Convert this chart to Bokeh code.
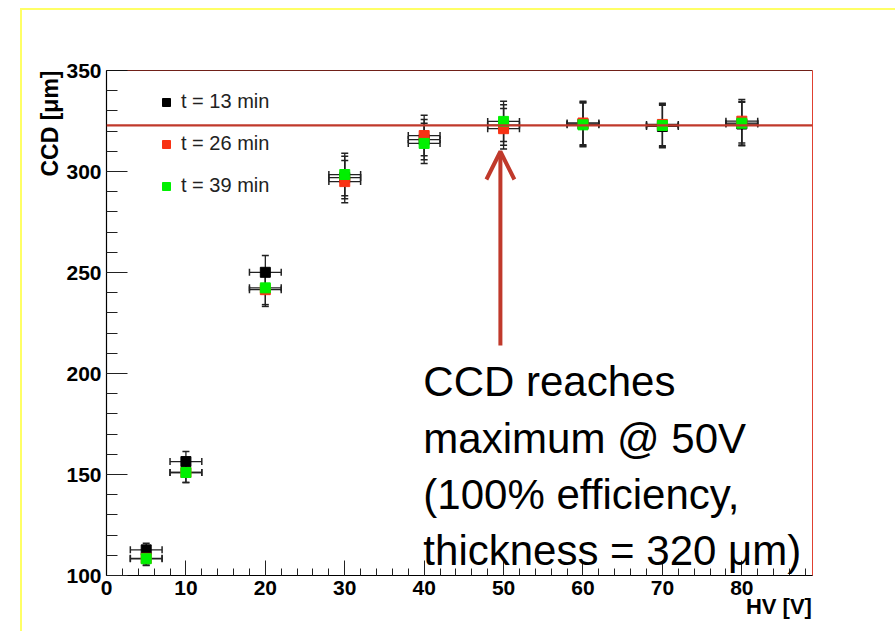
import math
from bokeh.plotting import figure
from bokeh.models import (Range1d, ColumnDataSource, Whisker, TeeHead, Span, Arrow,
                          OpenHead, Label, FixedTicker, Title, InlineStyleSheet)
from bokeh.embed import file_html
from bokeh.resources import INLINE

# ---- data ----
hv = [5, 10, 20, 30, 40, 50, 60, 70, 80]
hv_err = [2, 2, 2, 2, 2, 2, 2, 2, 2]
ccd_13 = [112.7, 156.4, 250.1, 297.0, 315.8, 323.0, 323.5, 322.3, 323.5]
ccd_26 = [108.5, 151.0, 241.5, 295.0, 317.8, 321.2, 324.0, 323.3, 324.9]
ccd_39 = [108.3, 151.0, 242.4, 298.5, 313.9, 324.8, 323.1, 322.8, 323.9]
ccd_err = [3.3, 5.0, 8.3, 10.5, 10.0, 10.0, 10.8, 10.5, 10.8]
series_labels = ["t = 13 min", "t = 26 min", "t = 39 min"]
series_colors = ["#000000", "#f83214", "#00f000"]
plateau = 322.8
x_ticks = [0, 10, 20, 30, 40, 50, 60, 70, 80]
y_ticks = [100, 150, 200, 250, 300, 350]
x_title = "HV [V]"
y_title = "CCD [μm]"

FONT = "'Liberation Sans', Arial, sans-serif"
DARKRED = "#c0392b"
NBSP = "\u00a0"

p = figure(width=879, height=623, output_backend="svg", toolbar_location=None,
           x_range=Range1d(0, 88.9), y_range=Range1d(100, 350),
           min_border_left=106, min_border_right=67, min_border_top=70,
           min_border_bottom=48)
p.grid.visible = False
p.background_fill_color = "white"
p.border_fill_color = "white"
p.outline_line_color = "#e04030"
p.outline_line_width = 1

for ax in (p.xaxis[0], p.yaxis[0]):
    ax.axis_line_color = "black"
    ax.axis_line_width = 1.2
    ax.major_tick_line_color = "#222222"
    ax.minor_tick_line_color = "#222222"
    ax.major_tick_out = 0
    ax.minor_tick_out = 0
    ax.major_label_text_font = FONT
    ax.major_label_text_font_style = "bold"
    ax.major_label_text_font_size = "21px"
    ax.major_label_text_color = "black"
    ax.major_label_standoff = 5

p.xaxis.ticker = FixedTicker(ticks=x_ticks, minor_ticks=[v for v in range(0, 89, 2)])
p.yaxis.ticker = FixedTicker(ticks=y_ticks, minor_ticks=[v for v in range(100, 351, 10)])
p.xaxis.major_tick_in = 15
p.xaxis.minor_tick_in = 7
p.yaxis.major_tick_in = 21
p.yaxis.minor_tick_in = 11

# x title: right-aligned at the end of the axis (ROOT style)
xa = p.xaxis[0]
xa.axis_label = x_title + NBSP * 11
if "axis_label_align" in xa.properties():
    xa.axis_label_align = "end"
xa.axis_label_standoff = -4
xa.axis_label_text_font = FONT
xa.axis_label_text_font_style = "bold"
xa.axis_label_text_font_size = "22px"
xa.axis_label_text_color = "black"

# y title: rotated, top-aligned
p.add_layout(Title(text=y_title, align="right", text_font=FONT, text_font_size="23px",
                   text_font_style="bold", text_color="black", standoff=1), "left")

# top frame line in black
p.add_layout(Span(location=350, dimension="width", line_color="black", line_width=1.2))

# error bars + markers
for vals, lab, col in zip([ccd_13, ccd_26, ccd_39], series_labels, series_colors):
    src = ColumnDataSource(dict(
        x=hv, y=vals,
        yl=[v - e for v, e in zip(vals, ccd_err)], yu=[v + e for v, e in zip(vals, ccd_err)],
        xl=[x - e for x, e in zip(hv, hv_err)], xu=[x + e for x, e in zip(hv, hv_err)]))
    wy = Whisker(source=src, base="x", lower="yl", upper="yu", dimension="height",
                 line_color="#222222", line_width=1.3, level="underlay",
                 upper_head=TeeHead(size=7, line_color="#222222", line_width=1.5),
                 lower_head=TeeHead(size=7, line_color="#222222", line_width=1.5))
    wx = Whisker(source=src, base="y", lower="xl", upper="xu", dimension="width",
                 line_color="#222222", line_width=1.3, level="underlay",
                 upper_head=TeeHead(size=7, line_color="#222222", line_width=1.5),
                 lower_head=TeeHead(size=7, line_color="#222222", line_width=1.5))
    p.add_layout(wy)
    p.add_layout(wx)
    p.scatter("x", "y", source=src, marker="square", size=10, fill_color=col,
              line_color=col, legend_label=lab)

# plateau line
p.add_layout(Span(location=plateau, dimension="width", line_color=DARKRED, line_width=2.2))

# arrow
p.add_layout(Arrow(end=OpenHead(size=28, line_color=DARKRED, line_width=4),
                   x_start=49.6, y_start=213.9, x_end=49.6, y_end=309.9,
                   line_color=DARKRED, line_width=4))

# annotation text
p.add_layout(Label(x=39.9, y=207.6, text="CCD reaches\nmaximum @ 50V\n(100% efficiency,\nthickness = 320 μm)",
                   text_font=FONT, text_font_size="42px", text_color="black",
                   text_align="left", text_baseline="top", text_line_height=1.2))

# legend
lg = p.legend[0]
lg.location = (50, 378)
lg.border_line_color = None
lg.background_fill_alpha = 0
lg.padding = 0
lg.margin = 0
lg.spacing = 19
lg.glyph_width = 20
lg.glyph_height = 20
lg.label_height = 20
lg.label_standoff = 5
lg.label_text_font = FONT
lg.label_text_font_size = "20px"
lg.label_text_color = "#222222"

# yellow slide frame (page decoration)
p.stylesheets = [InlineStyleSheet(css=(
    ":host { position: relative; }"
    ":host::after { content: ''; position: absolute; left: 20px; top: 8px; "
    "width: 2000px; height: 2000px; border-left: 2px solid #ffff66; "
    "border-top: 2px solid #ffff66; pointer-events: none; z-index: 10; }"))]

open("out.html", "w").write(file_html(p, INLINE))
